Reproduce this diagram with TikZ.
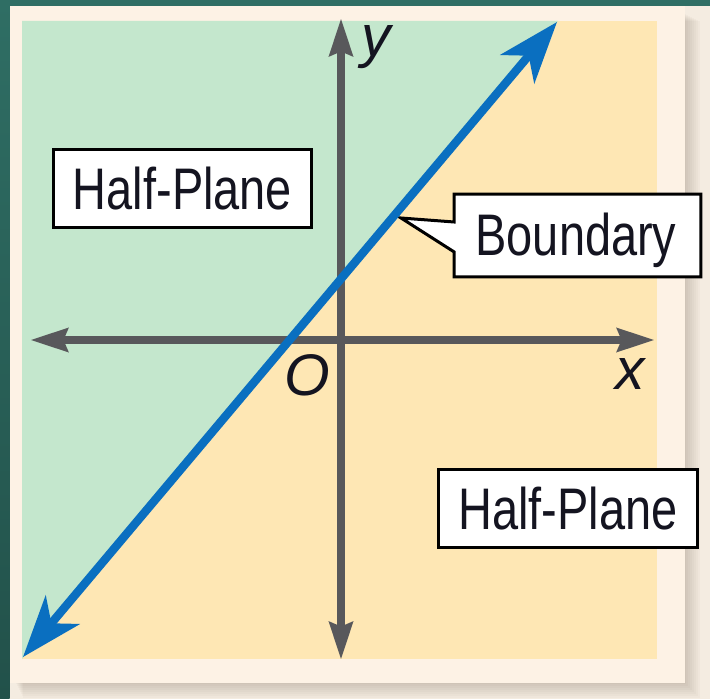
\documentclass[tikz,border=0pt]{standalone}
\usepackage{fontspec}
\setmainfont{Liberation Sans}[FakeStretch=0.8]
\newfontfamily\axfont{Liberation Sans}
\usetikzlibrary{arrows.meta}
\definecolor{teal1}{HTML}{2F6E64}
\definecolor{teal2}{HTML}{22514A}
\definecolor{paper}{HTML}{F4ECE1}
\definecolor{framec}{HTML}{FDF2E5}
\definecolor{greenp}{HTML}{C4E7CD}
\definecolor{orangep}{HTML}{FEE7B4}
\definecolor{axisg}{HTML}{58585B}
\definecolor{blueb}{HTML}{0A6FC0}
\definecolor{ink}{HTML}{141420}
\definecolor{shadowc}{HTML}{6A5A48}
\begin{document}
\begin{tikzpicture}[x=0.75pt,y=-0.75pt,
  axisline/.style={draw=axisg, line width=6.5pt,
    {Stealth[length=28pt,width=17pt,inset=3pt]}-{Stealth[length=28pt,width=17pt,inset=3pt]}},
  boundline/.style={draw=blueb, line width=6.3pt,
    {Stealth[length=46pt,width=33pt,inset=13pt]}-{Stealth[length=46pt,width=33pt,inset=13pt]}},
  boxline/.style={draw=black, line width=2.25pt, fill=white},
  labeltext/.style={font=\fontsize{44}{50}\selectfont, text=ink, inner sep=0pt,
    text height=31.5pt, text depth=0pt},
  planebox/.style={boxline, labeltext, minimum width=194pt, minimum height=58.5pt},
  axlabel/.style={font=\axfont\itshape\fontsize{44}{50}\selectfont, text=ink, inner sep=0pt}
]
\useasboundingbox (0,0) rectangle (710,699);
% page background
\fill[paper] (0,0) rectangle (710,699);
\shade[top color=teal1, bottom color=teal2] (0,0) rectangle (9.5,699);
\fill[teal1] (0,0) rectangle (710,6);
% soft shadow of the card
\foreach \i in {0,...,7}
  \fill[shadowc, opacity=0.035] (16+\i,14+\i) rectangle (686+2*\i,684+2*\i);
% card
\fill[framec] (10,6) rectangle (685,683);
% half-planes
\fill[orangep] (22,21) rectangle (657,659);
\fill[greenp] (22,21) -- (558,21) -- (22,659) -- cycle;
% axes
\coordinate (xl) at (30,340);
\coordinate (xr) at (655,340);
\coordinate (yt) at (341,18);
\coordinate (yb) at (341,660);
\draw[axisline] (xl) -- (xr);
\draw[axisline] (yb) -- (yt);
% boundary callout
\node[minimum width=184.5pt, minimum height=61.5pt, inner sep=0pt] (bd) at (577.5,235.5) {};
\coordinate (bdtip) at (401,218);
\coordinate (bdhi) at (0,222);
\coordinate (bdlo) at (0,252);
\draw[boxline, line join=miter] (bd.north west) -- (bd.north east) -- (bd.south east)
  -- (bd.south west) -- (bd.west |- bdlo) -- (bdtip) -- (bd.west |- bdhi) -- cycle;
\node[labeltext] (bdt) at (576,234.5) {Boundary};
% boundary line
\coordinate (bl) at (23,657);
\coordinate (tr) at (557,22);
\draw[boundline] (bl) -- (tr);
% half-plane boxes
\node[planebox] (hp1) at (182.5,188.5) {Half-Plane};
\node[planebox] (hp2) at (568,508.5) {Half-Plane};
% axis labels
\node[axlabel] (ylab) at (376,47) {y};
\node[axlabel] (xlab) at (630,374) {x};
\node[axlabel] (olab) at (307,375) {O};
\end{tikzpicture}
\end{document}
